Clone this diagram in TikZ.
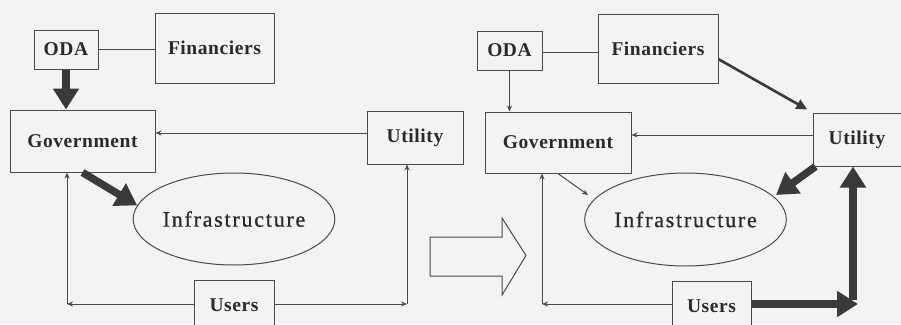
\documentclass[tikz,border=0pt]{standalone}
\usepackage{fontspec}
\setmainfont{Liberation Serif}
\newfontfamily\lblfont[LetterSpace=3]{Liberation Serif}
\newfontfamily\infrafont[LetterSpace=8,FakeBold=0.8]{Liberation Serif}
\usetikzlibrary{arrows.meta,shapes.geometric}
\definecolor{bgc}{HTML}{F3F3F1}
\definecolor{ln}{HTML}{4A4A4A}
\definecolor{thk}{HTML}{3A3A3A}
\definecolor{txt}{HTML}{2A2A2A}
\tikzset{
  boxnode/.style={draw=ln, line width=1pt, fill=bgc, inner sep=0pt, text=txt,
    font=\lblfont\bfseries\fontsize{19.5}{20}\selectfont},
  ellnode/.style={draw=ln, line width=1pt, ellipse, fill=bgc, inner sep=0pt, text=txt,
    font=\infrafont\fontsize{22}{24}\selectfont},
  thinline/.style={draw=ln, line width=1pt},
  thinarrow/.style={draw=ln, line width=1pt, -{Stealth[length=6pt,width=5pt]}},
  medarrow/.style={draw=thk, line width=2.6pt, -{Triangle[length=11pt,width=10pt]}},
  thickarrow/.style={draw=thk, line width=7.5pt, -{Triangle[length=21pt,width=25pt]}},
  hollowarrow/.style={draw=ln, line width=1pt, fill=bgc}
}
\begin{document}
\begin{tikzpicture}[x=1pt,y=-1pt]
\useasboundingbox (0,0) rectangle (901,324);
\fill[bgc] (0,0) rectangle (901,324);
\clip (0,0) rectangle (901,324);

% ---------- Left diagram ----------
\node[boxnode, minimum width=64pt, minimum height=39pt] (odaL) at (66,49.5) {ODA};
\node[boxnode, minimum width=119pt, minimum height=70pt] (finL) at (214.5,48) {Financiers};
\node[boxnode, minimum width=145pt, minimum height=62pt] (govL) at (82.5,141) {Government};
\node[boxnode, minimum width=96pt, minimum height=53pt] (utlL) at (415,137.5) {Utility};
\node[ellnode, minimum width=190pt, minimum height=92pt] (infL) at (234,219) {Infrastructure};
\node[boxnode, minimum width=80pt, minimum height=50pt] (usrL) at (234,305) {Users};

\coordinate (lvL) at (0,133);
\coordinate (cLL) at (67,304);
\coordinate (cLR) at (407,304);

\draw[thinline] (odaL.east) -- (odaL.east -| finL.west);
\draw[thickarrow] (odaL.south) -- (odaL.south |- govL.north);
\draw[thinarrow] (utlL.west |- lvL) -- (govL.east |- lvL);
\draw[thickarrow] (govL.south) -- (infL.172);
\draw[thinarrow] (usrL.west |- cLL) -- (cLL);
\draw[thinarrow] (cLL) -- (cLL |- govL.south);
\draw[thinarrow] (usrL.east |- cLR) -- (cLR);
\draw[thinarrow] (cLR) -- (cLR |- utlL.south);

% ---------- Transition arrow ----------
\draw[hollowarrow] (430,237) -- (502,237) -- (502,218) -- (526,255.5) -- (502,295) -- (502,276) -- (430,276) -- cycle;

% ---------- Right diagram ----------
\node[boxnode, minimum width=65pt, minimum height=39pt] (odaR) at (509.5,50.5) {ODA};
\node[boxnode, minimum width=120pt, minimum height=69pt] (finR) at (658,48.5) {Financiers};
\node[boxnode, minimum width=146pt, minimum height=61pt] (govR) at (558,142.5) {Government};
\node[boxnode, minimum width=88pt, minimum height=53pt] (utlR) at (857,139.5) {Utility};
\node[ellnode, minimum width=193pt, minimum height=93pt] (infR) at (685.5,219.5) {Infrastructure};
\node[boxnode, minimum width=79pt, minimum height=50pt] (usrR) at (711.5,306) {Users};

\coordinate (lvR) at (0,135);
\coordinate (cRL) at (542,304);
\coordinate (cRR) at (853,304);
\coordinate (giR) at (588,195);
\coordinate (uiR) at (776,195);

\draw[thinline] (odaR.east |- 0,52) -- (finR.west |- 0,52);
\draw[thinarrow] (odaR.south) -- (odaR.south |- govR.north);
\draw[medarrow, shorten >=6pt] (finR.-10) -- (utlR.north west);
\draw[thinarrow] (utlR.west |- lvR) -- (govR.east |- lvR);
\draw[thinarrow] (govR.south) -- (giR);
\draw[thickarrow] ([xshift=3pt]utlR.south west) -- (uiR);
\draw[thinarrow] (usrR.west |- cRL) -- (cRL);
\draw[thinarrow] (cRL) -- (cRL |- govR.south);
\draw[thickarrow, shorten >=-1pt] (usrR.east |- cRR) -- ([xshift=4pt]cRR);
\draw[thickarrow] ([yshift=3.75pt]cRR) -- (cRR |- utlR.south);
\end{tikzpicture}
\end{document}
